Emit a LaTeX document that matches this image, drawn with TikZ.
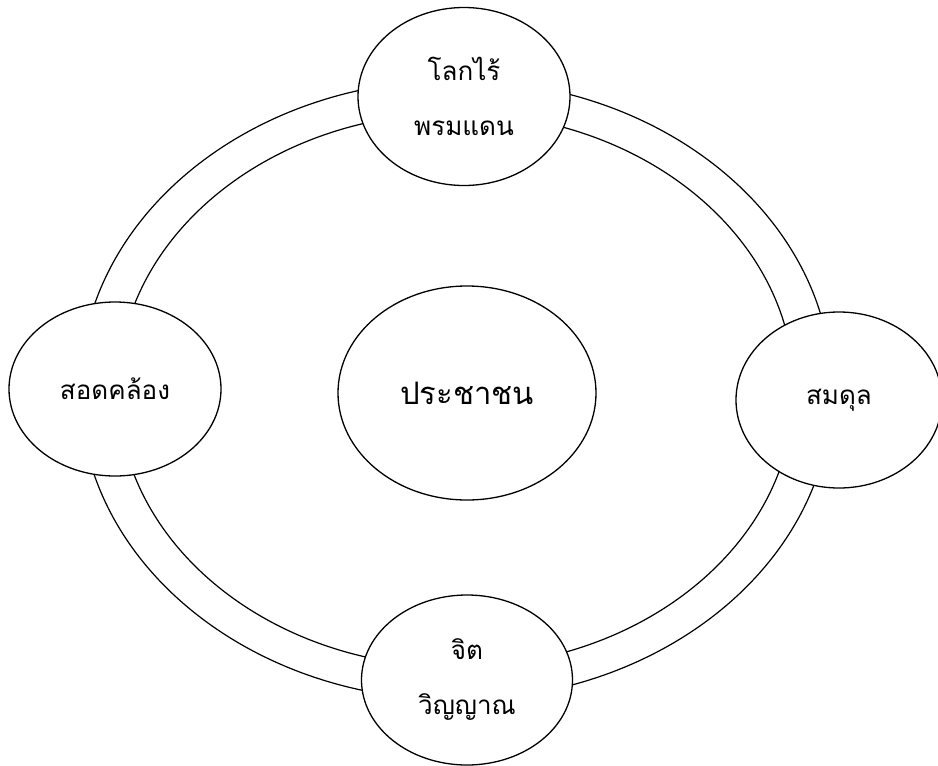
\documentclass[tikz,border=0pt]{standalone}
\usepackage{fontspec}
\newfontfamily\thaifont[Script=Thai]{Loma}
\usetikzlibrary{shapes.geometric}
\begin{document}
\begin{tikzpicture}[x=1pt,y=-1pt,
		bubble/.style={draw, ellipse, fill=white, line width=1.3pt, inner sep=0pt, align=center,
			font=\thaifont\fontsize{26}{55}\selectfont}]
		\useasboundingbox (0,0) rectangle (938,766);
		\fill[white] (0,0) rectangle (938,766);

		\draw[line width=1.2pt] (456,390) ellipse (376 and 310);
		\draw[line width=1.2pt] (456,390) ellipse (338 and 277);

		\node[bubble, minimum width=212, minimum height=178] (world) at (464,96.5) {โลกไร้\\พรมแดน};
		\node[bubble, minimum width=212, minimum height=174] (harmony) at (115,389) {สอดคล้อง};
		\node[bubble, minimum width=206, minimum height=176] (balance) at (839,400) {สมดุล};
		\node[bubble, minimum width=211, minimum height=170] (spirit) at (467,680) {จิต\\วิญญาณ};
		\node[bubble, minimum width=258, minimum height=214, font=\thaifont\fontsize{31}{38}\selectfont] (people) at (467,393) {ประชาชน};
	\end{tikzpicture}
\end{document}
